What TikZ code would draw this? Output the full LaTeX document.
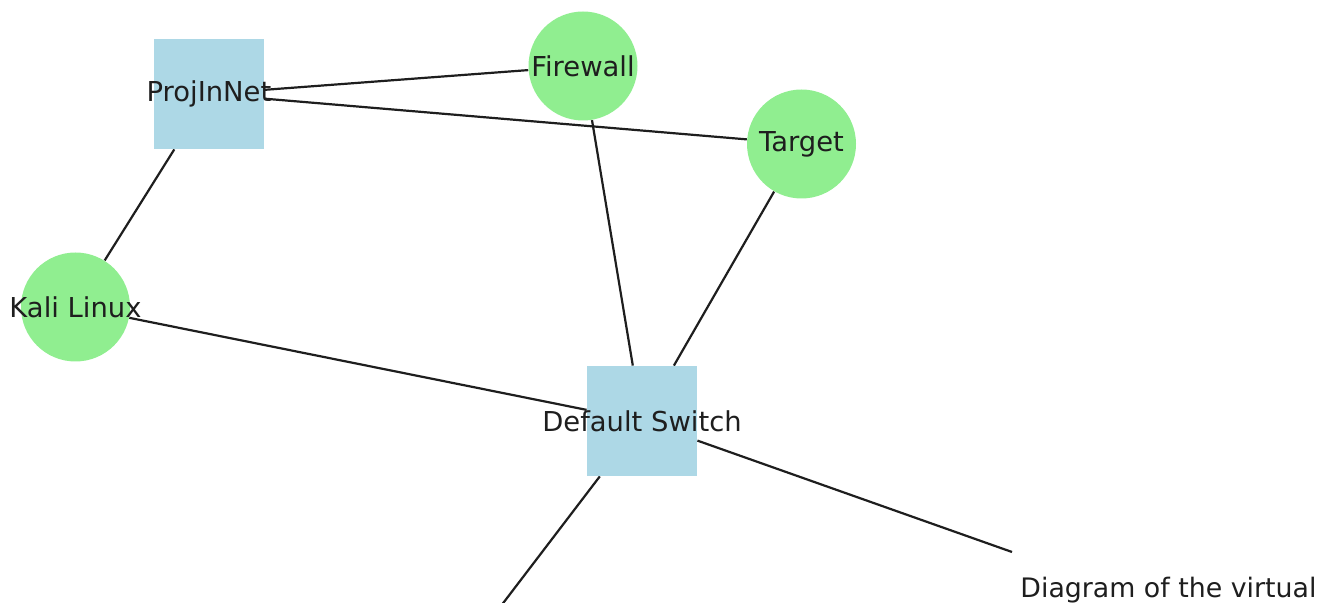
\documentclass[tikz,border=0pt]{standalone}
\usepackage{fontspec}
\setmainfont{DejaVu Sans}
\usetikzlibrary{backgrounds}
\definecolor{netblue}{RGB}{173,216,230}
\definecolor{hostgreen}{RGB}{144,238,144}
\definecolor{inkgray}{RGB}{30,30,30}

\begin{document}
\begin{tikzpicture}[-,x=0.5pt,y=-0.5pt,
  every node/.style={font=\fontsize{13.7}{16}\selectfont,text=inkgray}]
\tikzstyle{net}=[rectangle,fill=netblue,minimum size=55pt,inner sep=0pt]
\tikzstyle{host}=[circle,fill=hostgreen,minimum size=54.5pt,inner sep=0pt]
\tikzstyle{link}=[draw=inkgray,line width=1.1pt]
\useasboundingbox (0,0) rectangle (1327,603);
\clip (0,0) rectangle (1327,603);

\node[net]  (P) at (209,94)    [label=center:ProjInNet] {};
\node[host] (F) at (583,66)    [label=center:Firewall] {};
\node[host] (T) at (801.5,144) [label=center:Target] {};
\node[host] (K) at (75.5,307)  [label=center:Kali Linux] {};
\node[net]  (S) at (642,421)   [label=center:Default Switch] {};
\coordinate (L) at (475,640);
\coordinate (R) at (1012,552);
\node[anchor=base west,inner sep=0pt,font=\fontsize{13.4}{16}\selectfont]
  (C) at (1020,597) {Diagram of the virtual};

\begin{pgfonlayer}{background}
\path[link]
      (P) edge (F)
          edge (T)
          edge (K)
      (S) edge (F)
          edge (T)
          edge (K)
          edge (L)
          edge (R);
\end{pgfonlayer}

\end{tikzpicture}
\end{document}
